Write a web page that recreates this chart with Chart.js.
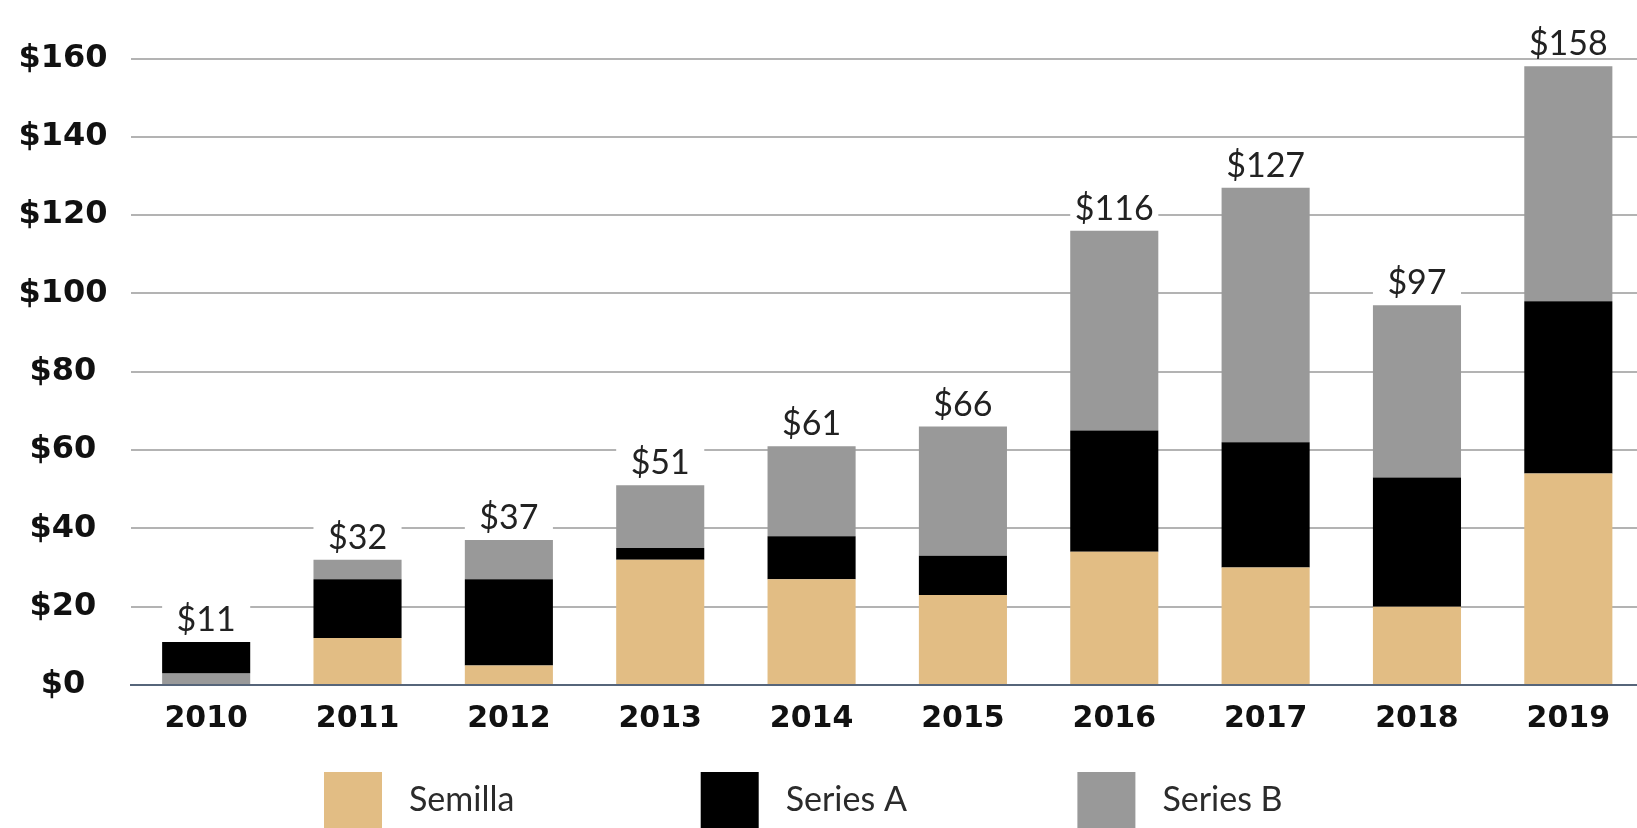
<!DOCTYPE html>
<html>
<head>
<meta charset="utf-8">
<script src="https://cdn.jsdelivr.net/npm/chart.js@4.4.1/dist/chart.umd.min.js"></script>
<style>
  html, body { margin: 0; padding: 0; background: #fff; overflow: hidden; width: 1637px; height: 828px; }
  canvas { display: block; }
</style>
</head>
<body>
<canvas id="bar-chart" width="1644" height="828"></canvas>
<script>
const years = ['2010', '2011', '2012', '2013', '2014', '2015', '2016', '2017', '2018', '2019'];
const semilla = [0, 12, 5, 32, 27, 23, 34, 30, 20, 54];
const seriesA = [8, 15, 22, 3, 11, 10, 31, 32, 33, 44];
const seriesB = [3, 5, 10, 16, 23, 33, 51, 65, 44, 60];
const yTicks = [0, 20, 40, 60, 80, 100, 120, 140, 160];
const seriesNames = ['Semilla', 'Series A', 'Series B'];
const seriesColors = ['#e2bd84', '#000000', '#999999'];

// in 2010 the grey block sits under the black one
const stackOrders = { 2010: [2, 1, 0] };

const series = [semilla, seriesA, seriesB];
const ranges = series.map(() => []);
years.forEach((year, i) => {
  let base = 0;
  (stackOrders[year] || [0, 1, 2]).forEach((s) => {
    ranges[s][i] = [base, base + series[s][i]];
    base += series[s][i];
  });
});
const totals = years.map((_, i) => semilla[i] + seriesA[i] + seriesB[i]);

const totalLabels = {
  id: 'totalLabels',
  afterDatasetsDraw(chart) {
    const { ctx, scales: { x, y } } = chart;
    const bars = chart.getDatasetMeta(2).data;
    ctx.save();
    ctx.font = '400 34px Lato';
    ctx.textAlign = 'center';
    ctx.textBaseline = 'middle';
    totals.forEach((total, i) => {
      const cx = x.getPixelForValue(i);
      const cy = y.getPixelForValue(total) - 22;
      const w = bars[i].width;
      ctx.fillStyle = '#fff';
      ctx.fillRect(cx - w / 2, cy - 16, w, 29);
      ctx.fillStyle = '#222';
      ctx.fillText('$' + total, cx, cy);
    });
    ctx.restore();
  },
};

const bottomLegend = {
  id: 'bottomLegend',
  afterDraw(chart) {
    const { ctx } = chart;
    ctx.save();
    ctx.font = '400 34px Lato';
    ctx.textAlign = 'left';
    ctx.textBaseline = 'middle';
    chart.data.datasets.forEach((ds, i) => {
      const left = 324 + i * 376.7;
      ctx.fillStyle = ds.backgroundColor;
      ctx.fillRect(left, 772, 58, 60);
      ctx.fillStyle = '#2b2b2b';
      ctx.fillText(ds.label, left + 85, 800);
    });
    ctx.restore();
  },
};

new Chart(document.getElementById('bar-chart'), {
  type: 'bar',
  data: {
    labels: years,
    datasets: seriesNames.map((name, s) => ({
      label: name,
      data: ranges[s],
      backgroundColor: seriesColors[s],
      borderWidth: 0,
      categoryPercentage: 1,
      barPercentage: 0.582,
    })),
  },
  options: {
    responsive: false,
    animation: false,
    layout: {
      padding: { top: 58.5, right: 0, bottom: 0, left: 0 },
    },
    scales: {
      x: {
        stacked: true,
        grid: { display: false, drawTicks: false },
        border: { display: true, color: '#56657a', width: 2 },
        ticks: {
          color: '#111',
          padding: 16,
          font: { family: 'DejaVu Sans', size: 30, weight: 'bold' },
        },
        afterFit: (axis) => { axis.height = 143; },
      },
      y: {
        min: 0,
        max: 160,
        afterBuildTicks: (axis) => { axis.ticks = yTicks.map((v) => ({ value: v })); },
        grid: { color: '#b3b3b3', lineWidth: 2, drawTicks: false },
        border: { display: false },
        ticks: {
          color: '#111',
          padding: 23,
          crossAlign: 'center',
          font: { family: 'DejaVu Sans', size: 32, weight: 'bold' },
          callback: (v) => '$' + v,
        },
        afterFit: (axis) => { axis.width = 130.5; },
      },
    },
    plugins: {
      legend: { display: false },
      tooltip: { enabled: false },
    },
  },
  plugins: [totalLabels, bottomLegend],
});
</script>
</body>
</html>
